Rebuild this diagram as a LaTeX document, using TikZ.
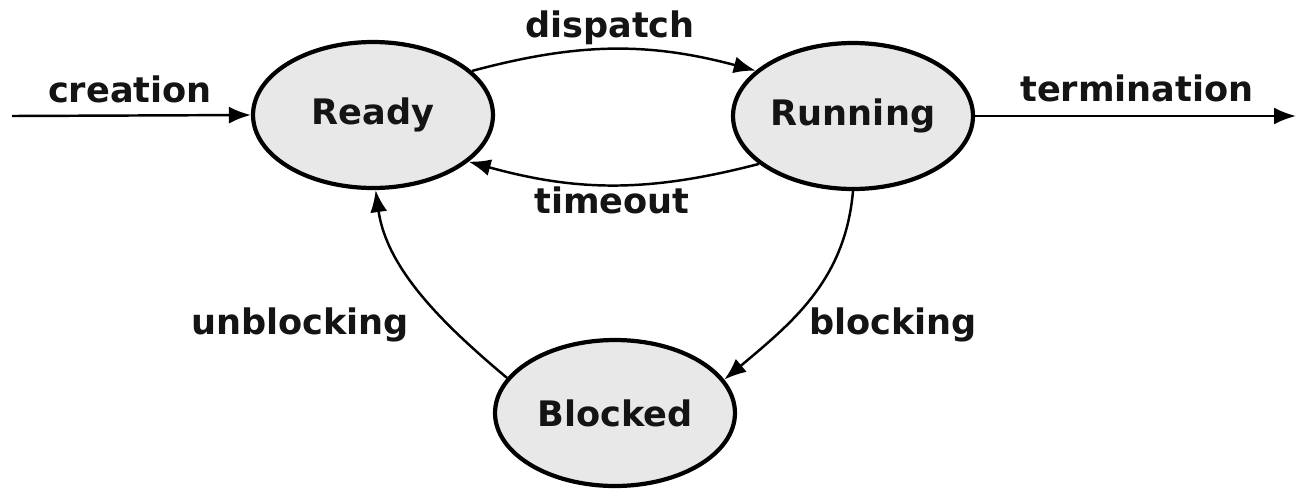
\documentclass[tikz,border=0pt]{standalone}
\usepackage{fontspec}
\setmainfont{DejaVu Sans}
\usetikzlibrary{shapes.geometric,arrows.meta}
\definecolor{statefill}{RGB}{232,232,232}
\definecolor{ink}{RGB}{20,20,20}
\begin{document}
\begin{tikzpicture}[x=0.02cm,y=-0.02cm,
  state/.style={ellipse,draw=black,fill=statefill,line width=2.4pt,
    minimum width=4.8cm,minimum height=2.92cm,inner sep=0pt,
    font=\fontsize{20}{24}\selectfont\bfseries,text=ink},
  lbl/.style={anchor=base,font=\fontsize{20}{24}\selectfont\bfseries,text=ink,inner sep=0pt},
  trans/.style={line width=1.4pt,-{Latex[length=4.4mm,width=3.4mm]}}]
\useasboundingbox (0,0) rectangle (1299,495);

% states
\node[state] (ready)   at (373,115) {Ready};
\node[state] (running) at (853,116) {Running};
\node[state] (blocked) at (615,413) {Blocked};

% free ends of the entry and exit arrows
\coordinate (start) at (12,116);
\coordinate (stop)  at (1296,116);

% transitions
\draw[trans] (start) -- (ready.west);
\draw[trans] (running.east) -- (stop);
\draw[trans] (ready.24) to[bend left=15] (running.155);
\draw[trans] (running.207) to[bend left=15] (ready.334);
\draw[trans] (running.-90) to[out=-95,in=40] (blocked.17);
\draw[trans] (blocked.162) to[out=140,in=-82,looseness=0.9] (ready.-88);

% labels
\node[lbl] (lcreation)    at (130,102)  {creation};
\node[lbl] (ltermination) at (1137,101) {termination};
\node[lbl] (ldispatch)    at (610,37)   {dispatch};
\node[lbl] (ltimeout)     at (612,213)  {timeout};
\node[lbl] (lblocking)    at (893,334)  {blocking};
\node[lbl] (lunblocking)  at (300,334)  {unblocking};
\end{tikzpicture}
\end{document}
